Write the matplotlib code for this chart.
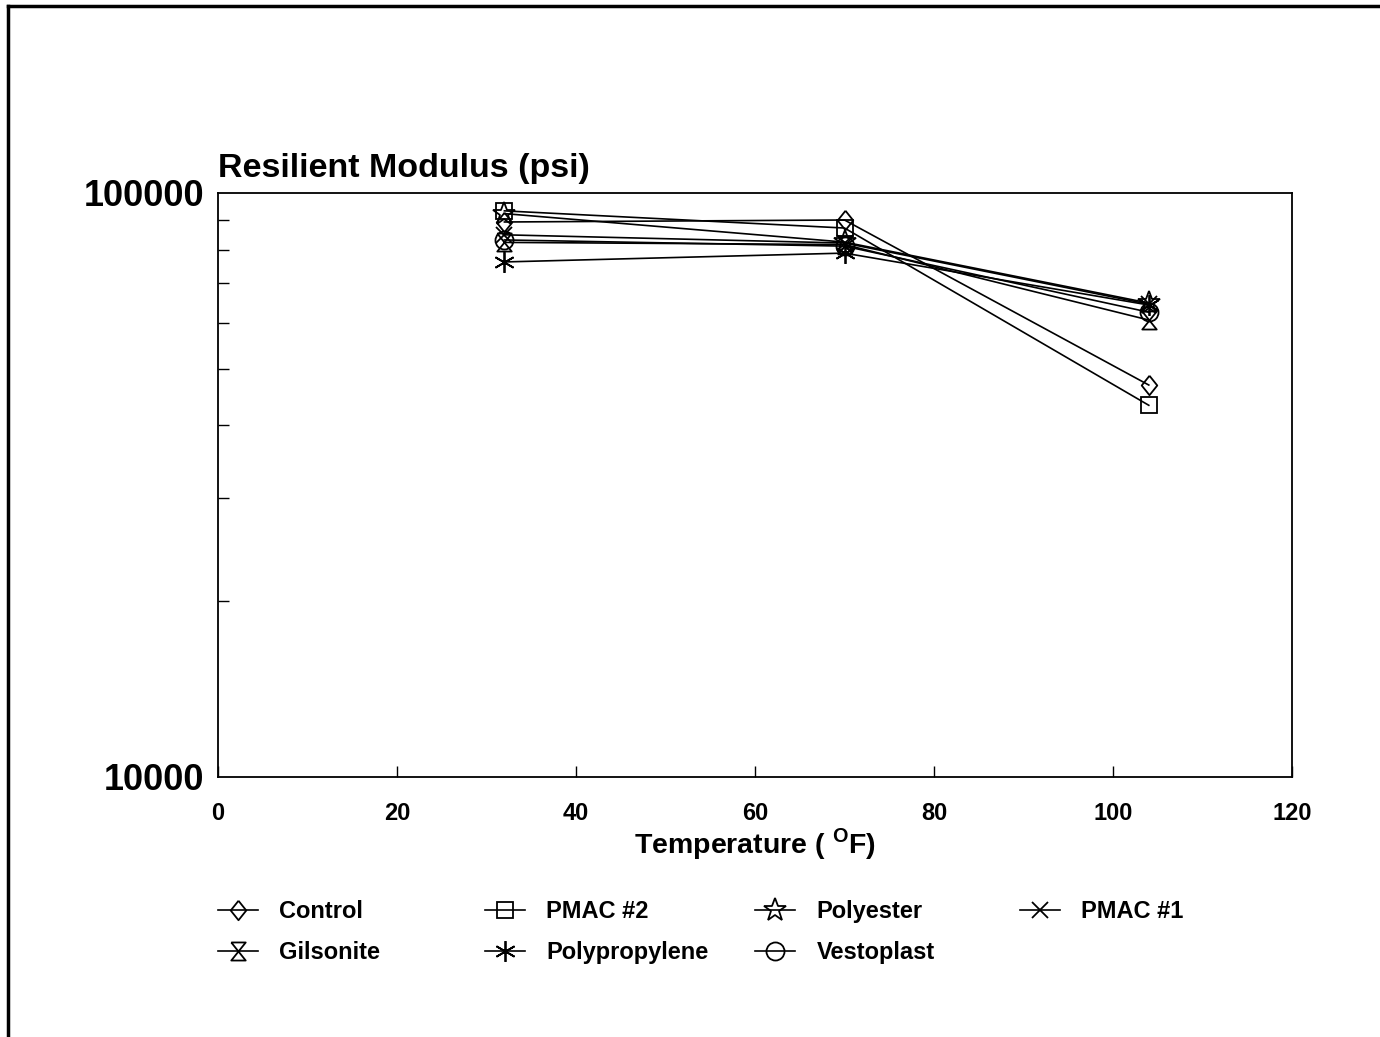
import numpy as np
import matplotlib
matplotlib.use("Agg")
import matplotlib.pyplot as plt
from matplotlib.lines import Line2D

plt.rcParams['font.family'] = ['Liberation Sans', 'DejaVu Sans']
plt.rcParams['font.weight'] = 'bold'
plt.rcParams['mathtext.fontset'] = 'custom'
plt.rcParams['mathtext.rm'] = 'Liberation Sans:bold'
plt.rcParams['mathtext.bf'] = 'Liberation Sans:bold'

# temperatures (F)
temps = [32, 70, 104]

# resilient modulus (psi)
control = [89200, 89900, 46900]
pmac2 = [93200, 87100, 43300]
polyester = [92200, 82400, 64800]
pmac1 = [84800, 82100, 64500]
gilsonite = [82300, 81600, 60600]
polypropylene = [76200, 78900, 64300]
vestoplast = [83100, 81100, 62500]

series_names = ['Control', 'PMAC #2', 'Polyester', 'PMAC #1',
                'Gilsonite', 'Polypropylene', 'Vestoplast']
series_vals = [control, pmac2, polyester, pmac1,
               gilsonite, polypropylene, vestoplast]

# marker shapes
diamond = [(0, 1), (0.8, 0), (0, -1), (-0.8, 0), (0, 1)]
hourglass = [(-0.8, 1), (0.8, 1), (-0.8, -1), (0.8, -1), (-0.8, 1)]
markers = [diamond, 's', '*', 'x', hourglass, (6, 2, 0), 'o']
msizes = [14, 12, 17, 12, 13, 15, 13]

fig = plt.figure(figsize=(13.8, 10.37), dpi=100)
ax = fig.add_axes([218/1380, 1-777/1037, (1292-218)/1380, (777-193)/1037])

handles = []
for name, vals, mk, ms in zip(series_names, series_vals, markers, msizes):
    h, = ax.plot(temps, vals, color='black', lw=1.2, marker=mk, ms=ms,
                 mfc='none', mec='black', mew=1.3, label=name)
    handles.append(h)

ax.set_yscale('log')
ax.set_xlim(0, 120)
ax.set_ylim(10000, 100000)
ax.set_xticks([0, 20, 40, 60, 80, 100, 120])
ax.set_yticks([10000, 100000])
ax.set_yticklabels(['10000', '100000'])
ax.yaxis.set_minor_locator(matplotlib.ticker.LogLocator(subs=np.arange(2, 10)))
ax.yaxis.set_minor_formatter(matplotlib.ticker.NullFormatter())
ax.tick_params(axis='x', direction='in', length=8, width=1, pad=18, labelsize=17)
ax.tick_params(axis='y', which='major', direction='in', length=0, pad=10, labelsize=26)
ax.tick_params(axis='y', which='minor', direction='in', length=8, width=1)
for s in ax.spines.values():
    s.set_linewidth(1.3)

ax.set_xlabel(r'Temperature ( $^{\mathrm{O}}$F)', fontsize=20.5, fontweight='bold', labelpad=1)
fig.text(218/1380, 1-177/1037, 'Resilient Modulus (psi)', fontsize=24.5,
         fontweight='bold', ha='left', va='baseline')

# legend, one block per column
col_x = [218, 485, 755, 1020]
cols = [[0, 4], [1, 5], [2, 6], [3]]
for cx, idx in zip(col_x, cols):
    fig.legend([handles[i] for i in idx], [series_names[i] for i in idx],
               loc='upper left', bbox_to_anchor=(cx/1380, 1-900/1037),
               frameon=False, borderpad=0, borderaxespad=0,
               handlelength=1.7, handletextpad=0.9, labelspacing=0.78,
               prop={'size': 17, 'weight': 'bold'})

# page border (top and left)
fig.add_artist(Line2D([8/1380, 1], [1-6/1037, 1-6/1037], color='black', lw=2.5,
                      transform=fig.transFigure))
fig.add_artist(Line2D([8/1380, 8/1380], [0, 1-6/1037], color='black', lw=2.5,
                      transform=fig.transFigure))

fig.savefig('out.png', dpi=100)
